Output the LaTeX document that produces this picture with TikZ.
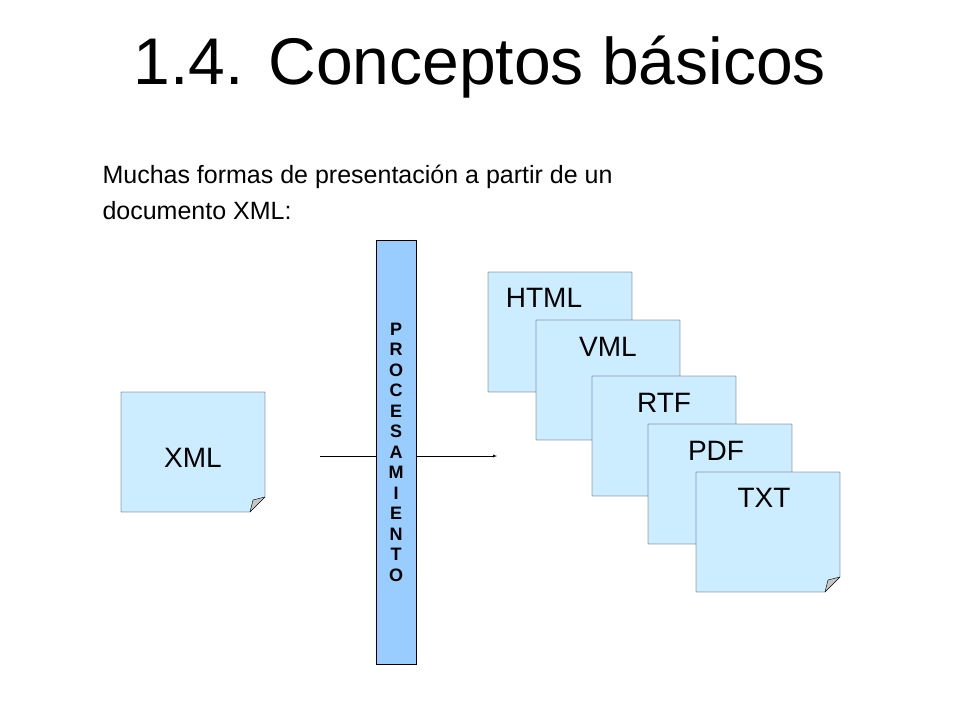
\documentclass[tikz,border=0pt]{standalone}
\usepackage{fontspec}
\setmainfont{Liberation Sans}
\usetikzlibrary{positioning,calc}
\definecolor{docblue}{HTML}{CCECFF}
\definecolor{barblue}{HTML}{99CCFF}
% folded document sheet: name, left, top, label, label anchor
\newcommand{\docsheet}[5]{%
  \fill[docblue] (#2,#3) -- ++(144,0) -- ++(0,105) -- ++(-15,15) -- ++(-129,0) -- cycle;
  \fill[gray!45] ($(#2,#3)+(144,105)$) -- ++(-15,15) -- ++(3,-12) -- cycle;
  \draw ($(#2,#3)+(144,105)$) -- ++(-12,3) -- ++(-3,12);
  \draw (#2,#3) -- ++(144,0) -- ++(0,105) -- ++(-15,15) -- ++(-129,0) -- cycle;
  \node[font=\fontsize{28}{32}\selectfont] (#1) at ($(#2,#3)+(#5)$) {#4};
}
\begin{document}
\begin{tikzpicture}[x=1pt,y=-1pt,
  bar/.style={draw, fill=barblue, minimum width=40pt, minimum height=424pt, inner sep=0pt, align=center,
    font=\bfseries\fontsize{18}{20.5}\selectfont},
  flow/.style={-latex}]
  \useasboundingbox (0,0) rectangle (960,720);
  \node[font=\fontsize{66}{70}\selectfont] (title) at (480,67) {1.4. Conceptos básicos};
  \node[font=\fontsize{25}{36}\selectfont, align=left, anchor=north west] (intro) at (99,162)
    {Muchas formas de presentación a partir de un\\documento XML:};

  \docsheet{xml}{121}{392}{XML}{72,66}
  \docsheet{html}{488}{272}{HTML}{56,26}
  \docsheet{vml}{536}{320}{VML}{72,27}
  \docsheet{rtf}{592}{376}{RTF}{72,27}
  \docsheet{pdf}{648}{424}{PDF}{68,27}
  \docsheet{txt}{696}{472}{TXT}{68,26}

  \node[bar] (proc) at (396,452) {P\\R\\O\\C\\E\\S\\A\\M\\I\\E\\N\\T\\O};
  \coordinate (in) at (320,456);
  \coordinate (out) at (497,456);
  \draw (in) -- (in -| proc.west);
  \draw[flow] (out -| proc.east) -- (out);
\end{tikzpicture}
\end{document}
